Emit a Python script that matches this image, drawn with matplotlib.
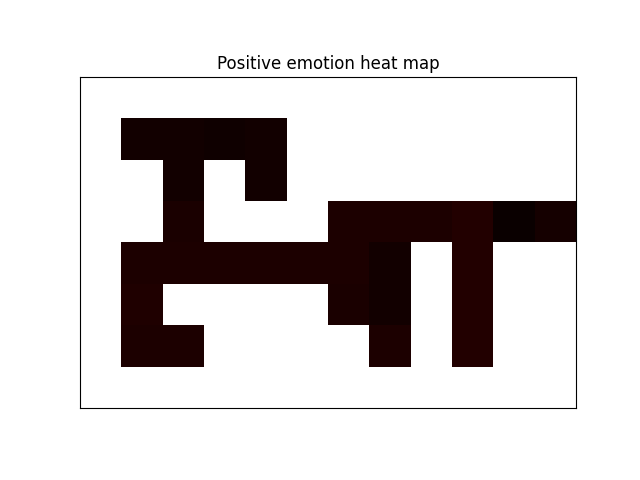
import numpy as np
import matplotlib
matplotlib.use("Agg")
import matplotlib.pyplot as plt

# grid of positive emotion values, 8 rows x 12 columns
# empty cells are 1.0 (they map to white in the 'hot' colormap)
E = 1.0
row0 = [E, E, E, E, E, E, E, E, E, E, E, E]
row1 = [E, 0.014, 0.014, 0.010, 0.013, E, E, E, E, E, E, E]
row2 = [E, E, 0.013, E, 0.013, E, E, E, E, E, E, E]
row3 = [E, E, 0.026, E, E, E, 0.029, 0.029, 0.029, 0.037, 0.0005, 0.017]
row4 = [E, 0.029, 0.029, 0.029, 0.029, 0.029, 0.029, 0.012, E, 0.037, E, E]
row5 = [E, 0.032, E, E, E, E, 0.026, 0.012, E, 0.037, E, E]
row6 = [E, 0.029, 0.029, E, E, E, E, 0.029, E, 0.037, E, E]
row7 = [E, E, E, E, E, E, E, E, E, E, E, E]

grid = np.array([row0, row1, row2, row3, row4, row5, row6, row7])

fig, ax = plt.subplots(figsize=(6.4, 4.8), dpi=100)
ax.imshow(grid, cmap='hot', vmin=0.0, vmax=1.0, interpolation='nearest')
ax.set_xticks([])
ax.set_yticks([])
ax.set_title('Positive emotion heat map')

fig.savefig('out.png')
